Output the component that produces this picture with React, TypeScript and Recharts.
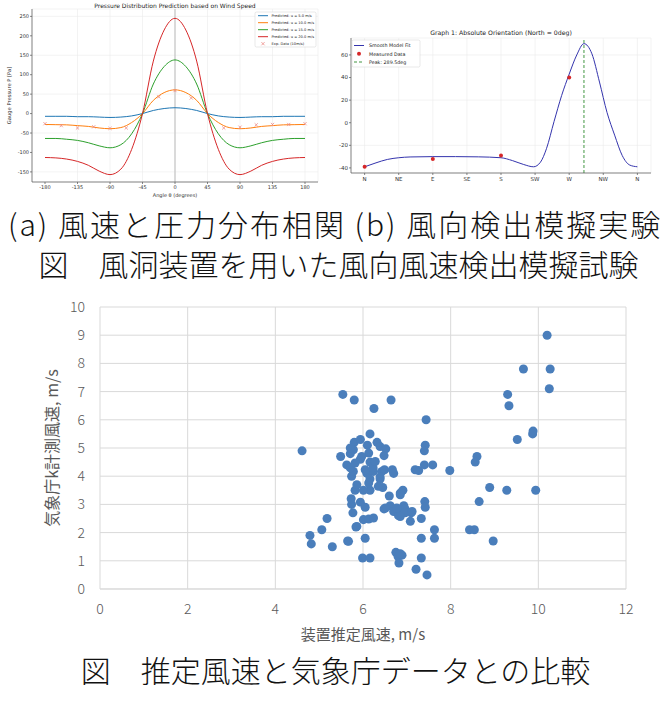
import React from "react";
import {
  ComposedChart,
  ScatterChart,
  Line,
  Scatter,
  XAxis,
  YAxis,
  ZAxis,
  CartesianGrid,
  ReferenceLine,
  Label,
} from "recharts";

// (a) pressure distribution vs angle, every 15 deg
const thetaDeg = [
  -180, -165, -150, -135, -120, -105, -90, -75, -60, -45, -30, -15, 0,
  15, 30, 45, 60, 75, 90, 105, 120, 135, 150, 165, 180,
];
const pU5 = [-7, -7, -7, -8, -8, -9, -10, -9, -6, 0, 8, 13, 15, 13, 8, 0, -6, -9, -10, -9, -8, -8, -7, -7, -7];
const pU10 = [-28, -28.5, -29, -31, -33, -37, -39, -36, -23, 0, 34, 54, 61, 54, 34, 0, -23, -36, -39, -37, -33, -31, -29, -28.5, -28];
const pU15 = [-64, -64, -66, -69, -75, -83, -88, -80, -52, 0, 76, 121, 138, 121, 76, 0, -52, -80, -88, -83, -75, -69, -66, -64, -64];
const pU20 = [-113, -114, -117, -123, -133, -148, -157, -143, -92, 0, 135, 215, 245, 215, 135, 0, -92, -143, -157, -148, -133, -123, -117, -114, -113];

const expTheta = [-180, -157.5, -135, -112.5, -90, -67.5, -22.5, 0, 22.5, 67.5, 90, 112.5, 135, 157.5, 180];
const expP = [-26, -31, -37, -34, -38, -37, 43, 59, 40, -37, -35, -29, -28, -28, -26];

const pressureTicksX = [-180, -135, -90, -45, 0, 45, 90, 135, 180];
const pressureTicksY = [-150, -100, -50, 0, 50, 100, 150, 200, 250];

const pressureSeries = [
  { key: "u5", name: "Predicted: u = 5.0 m/s", color: "#1f77b4" },
  { key: "u10", name: "Predicted: u = 10.0 m/s", color: "#ff7f0e" },
  { key: "u15", name: "Predicted: u = 15.0 m/s", color: "#2ca02c" },
  { key: "u20", name: "Predicted: u = 20.0 m/s", color: "#d62728" },
];

// (b) orientation experiment
const fitDeg = [0, 15, 30, 45, 60, 90, 120, 150, 180, 195, 210, 223, 232, 240, 250, 260, 270, 280, 289.5, 300, 310, 320, 330, 340, 350, 360];
const fitVal = [-39, -35.5, -32.5, -31, -30.3, -30, -30, -30.2, -31, -33.5, -37, -39, -35, -23, 1, 24, 43, 60, 70, 61, 36, 9, -11, -29, -37.5, -39];
const measDeg = [0, 90, 180, 270];
const measVal = [-39, -32, -29, 40];
const dirTicks = [0, 45, 90, 135, 180, 225, 270, 315, 360];
const dirLabels = ["N", "NE", "E", "SE", "S", "SW", "W", "NW", "N"];
const orientTicksY = [-40, -20, 0, 20, 40, 60];
const peakDeg = 289.5;

// device estimate vs JMA measured wind speed
const estSpeed = [
  10.2, 9.66, 10.27, 10.25, 5.54, 5.8, 6.25, 6.64, 9.3, 9.33, 7.44, 6.16, 9.52, 9.88, 9.87, 7.42,
  4.61, 7.4, 8.6, 8.56, 7.4, 7.59, 7.27, 7.98, 6.91, 8.89, 9.28, 9.94, 8.65, 7.41, 7.42, 6.93,
  6.89, 7.1, 7.08, 7.33, 7.63, 7.63, 7.33, 8.43, 8.54, 8.97, 6.89, 7.21, 7.46, 7.33, 6.75, 6.8,
  6.82, 5.18, 5.06, 4.79, 4.82, 5.3, 5.65, 6.05, 5.99, 6.16, 5.84, 5.77, 5.74, 5.73, 5.94, 6.05,
  6.01, 6.13, 6.24, 5.82, 5.86, 6.16, 6.39, 6.45, 6.6, 6.85, 6.48, 6.62, 6.7, 6.81, 6.96, 5.74,
  5.78, 6.09, 6.24, 6.16, 6.43, 6.7, 5.8, 5.94, 6.1, 6.32, 6.39, 6.52, 5.49, 5.71, 5.78, 6.48,
  5.94, 6.16, 6.23, 5.63, 5.71, 6.05, 6.49, 6.67, 6.39, 5.71, 6.13, 5.97, 5.82, 6.28, 6.13, 6.35,
  7.19, 6.01, 6.85, 6.51, 6.77, 6.96, 6.85, 7.12, 5.86, 5.67, 6.85,
];
const jmaSpeed = [
  9.0, 7.8, 7.8, 7.1, 6.9, 6.7, 6.4, 6.7, 6.9, 6.5, 6.0, 5.5, 5.3, 5.6, 5.5, 5.1,
  4.9, 4.9, 4.7, 4.5, 4.4, 4.4, 4.2, 4.2, 3.5, 3.6, 3.5, 3.5, 3.1, 3.1, 2.9, 2.95,
  2.7, 2.7, 2.4, 2.5, 2.1, 1.8, 1.8, 2.1, 2.1, 1.7, 1.2, 0.7, 0.5, 1.1, 1.3, 1.15,
  0.92, 2.5, 2.1, 1.9, 1.6, 1.5, 1.7, 1.8, 1.1, 1.1, 2.2, 2.7, 3.0, 3.2, 3.08, 2.9,
  2.46, 2.48, 2.52, 3.5, 3.7, 3.5, 3.9, 3.6, 3.3, 3.4, 2.84, 2.95, 2.75, 2.6, 2.84, 4.0,
  4.17, 4.1, 4.17, 3.9, 4.17, 4.1, 5.2, 5.3, 5.1, 5.2, 5.05, 4.97, 4.7, 4.8, 4.94, 4.73,
  4.6, 4.5, 4.3, 4.4, 4.3, 4.23, 4.23, 4.23, 3.97, 5.0, 4.82, 4.7, 4.47, 4.52, 3.76, 3.64,
  4.23, 3.5, 3.34, 2.87, 2.87, 2.7, 2.57, 2.75, 2.22, 1.69, 1.25,
];
const speedTicksX = [0, 2, 4, 6, 8, 10, 12];
const speedTicksY = [0, 1, 2, 3, 4, 5, 6, 7, 8, 9, 10];

const MPL = "'DejaVu Sans', sans-serif";
const JP = "'Noto Sans CJK JP', 'Noto Sans', sans-serif";

const pressureRows = thetaDeg.map((t, i) => ({
  theta: t,
  u5: pU5[i],
  u10: pU10[i],
  u15: pU15[i],
  u20: pU20[i],
}));
const expRows = expTheta.map((t, i) => ({ theta: t, p: expP[i] }));
const fitRows = fitDeg.map((d, i) => ({ deg: d, fit: fitVal[i] }));
const measRows = measDeg.map((d, i) => ({ deg: d, v: measVal[i] }));
const speedRows = estSpeed.map((x, i) => ({ x, y: jmaSpeed[i] }));

const XMark = (props: any) => {
  const { cx, cy } = props;
  const s = 1.6;
  return (
    <g stroke="#ec8a85" strokeWidth={0.8}>
      <line x1={cx - s} y1={cy - s} x2={cx + s} y2={cy + s} />
      <line x1={cx - s} y1={cy + s} x2={cx + s} y2={cy - s} />
    </g>
  );
};

const RedDot = (props: any) => <circle cx={props.cx} cy={props.cy} r={2} fill="#d62728" />;

const smallTick = { fontSize: 5, fill: "#333", fontFamily: MPL };
const spine = { stroke: "#555", strokeWidth: 0.7 };

function PressureChart() {
  return (
    <div style={{ position: "absolute", left: 0, top: 0, width: 330, height: 200 }}>
      <ComposedChart width={330} height={200} data={pressureRows} margin={{ top: 9, right: 12, bottom: 0, left: 0 }}>
        <CartesianGrid stroke="#ebebeb" strokeWidth={0.6} />
        <XAxis
          type="number"
          dataKey="theta"
          domain={[-198, 198]}
          ticks={pressureTicksX}
          tick={smallTick}
          tickSize={2}
          tickMargin={1}
          height={18}
          axisLine={spine}
          tickLine={spine}
        >
          <Label value="Angle θ (degrees)" position="insideBottom" offset={3} style={{ fontSize: 5, fill: "#333", fontFamily: MPL }} />
        </XAxis>
        <XAxis xAxisId="top" orientation="top" type="number" domain={[-198, 198]} height={0} tick={false} tickLine={false} axisLine={spine} />
        <YAxis
          type="number"
          domain={[-176, 269]}
          ticks={pressureTicksY}
          tick={smallTick}
          tickSize={2}
          tickMargin={1}
          width={32}
          axisLine={spine}
          tickLine={spine}
        >
          <Label
            value="Gauge Pressure P [Pa]"
            angle={-90}
            position="insideLeft"
            offset={9}
            style={{ fontSize: 5.2, fill: "#333", fontFamily: MPL, textAnchor: "middle" }}
          />
        </YAxis>
        <YAxis yAxisId="right" orientation="right" type="number" domain={[-176, 269]} width={0} tick={false} tickLine={false} axisLine={spine} />
        <ReferenceLine x={0} stroke="#c8c8c8" strokeOpacity={0.8} strokeWidth={1.6} />
        {pressureSeries.map((s) => (
          <Line
            key={s.key}
            type="monotone"
            dataKey={s.key}
            stroke={s.color}
            strokeWidth={1}
            dot={false}
            isAnimationActive={false}
          />
        ))}
        <Scatter data={expRows} dataKey="p" shape={XMark} isAnimationActive={false} />
      </ComposedChart>
      <svg style={{ position: "absolute", left: 0, top: 0 }} width={330} height={200}>
        <text x={175} y={7.5} textAnchor="middle" fontSize={6} fontFamily={MPL} fill="#222">
          Pressure Distribution Prediction based on Wind Speed
        </text>
        <rect x={255} y={12} width={61} height={35} rx={1.5} fill="#fff" fillOpacity={0.85} stroke="#d0d0d0" strokeWidth={0.5} />
        {pressureSeries.map((s, i) => (
          <g key={s.key}>
            <line x1={258} x2={268} y1={15.7 + i * 7} y2={15.7 + i * 7} stroke={s.color} strokeWidth={1} />
            <text x={271.5} y={17 + i * 7} fontSize={3.6} fontFamily={MPL} fill="#222">
              {s.name}
            </text>
          </g>
        ))}
        <g transform="translate(263, 43.7)" stroke="#ec8a85" strokeWidth={0.8}>
          <line x1={-1.6} y1={-1.6} x2={1.6} y2={1.6} />
          <line x1={-1.6} y1={1.6} x2={1.6} y2={-1.6} />
        </g>
        <text x={271.5} y={45} fontSize={3.6} fontFamily={MPL} fill="#222">
          Exp. Data (10m/s)
        </text>
      </svg>
    </div>
  );
}

function OrientationChart() {
  return (
    <div style={{ position: "absolute", left: 330, top: 0, width: 335, height: 200 }}>
      <ComposedChart width={335} height={200} margin={{ top: 38, right: 14, bottom: 0, left: 0 }}>
        <CartesianGrid stroke="#ebebeb" strokeWidth={0.6} />
        <XAxis
          type="number"
          dataKey="deg"
          domain={[-18, 378]}
          ticks={dirTicks}
          tickFormatter={(v: number) => dirLabels[dirTicks.indexOf(v)]}
          tick={{ ...smallTick, fontSize: 5.5 }}
          tickSize={2}
          tickMargin={2}
          height={27}
          axisLine={spine}
          tickLine={spine}
        />
        <XAxis xAxisId="top" orientation="top" type="number" domain={[-18, 378]} height={0} tick={false} tickLine={false} axisLine={spine} />
        <YAxis
          type="number"
          domain={[-44.5, 75]}
          ticks={orientTicksY}
          tick={{ ...smallTick, fontSize: 5.5 }}
          tickSize={2}
          tickMargin={1}
          width={21}
          axisLine={spine}
          tickLine={spine}
        />
        <YAxis yAxisId="right" orientation="right" type="number" domain={[-44.5, 75]} width={0} tick={false} tickLine={false} axisLine={spine} />
        <Line data={fitRows} type="monotone" dataKey="fit" stroke="#3434ad" strokeWidth={1} dot={false} isAnimationActive={false} />
        <Scatter data={measRows} dataKey="v" shape={RedDot} isAnimationActive={false} />
        <ReferenceLine x={peakDeg} stroke="#2e8b2e" strokeWidth={0.9} strokeDasharray="3 2" />
      </ComposedChart>
      <svg style={{ position: "absolute", left: 0, top: 0 }} width={335} height={200}>
        <text x={171} y={35} textAnchor="middle" fontSize={6.2} fontFamily={MPL} fill="#222">
          Graph 1: Absolute Orientation (North = 0deg)
        </text>
        <rect x={22} y={40} width={68} height={27} rx={1.5} fill="#fff" fillOpacity={0.85} stroke="#d0d0d0" strokeWidth={0.5} />
        <line x1={24} x2={34} y1={45.5} y2={45.5} stroke="#3434ad" strokeWidth={1} />
        <text x={39} y={47.2} fontSize={4.8} fontFamily={MPL} fill="#222">Smooth Model Fit</text>
        <circle cx={29} cy={53.8} r={2} fill="#d62728" />
        <text x={39} y={55.5} fontSize={4.8} fontFamily={MPL} fill="#222">Measured Data</text>
        <line x1={24} x2={34} y1={62} y2={62} stroke="#2e8b2e" strokeWidth={0.9} strokeDasharray="3 2" />
        <text x={39} y={63.7} fontSize={4.8} fontFamily={MPL} fill="#222">Peak: 289.5deg</text>
      </svg>
    </div>
  );
}

function SpeedScatter() {
  const tick = { fontSize: 14, fill: "#595959", fontFamily: JP, fontWeight: 300 };
  return (
    <div style={{ position: "absolute", left: 0, top: 290, width: 665, height: 360 }}>
      <ScatterChart width={665} height={360} margin={{ top: 17, right: 39, bottom: 0, left: 0 }}>
        <CartesianGrid stroke="#d9d9d9" />
        <XAxis
          type="number"
          dataKey="x"
          domain={[0, 12]}
          ticks={speedTicksX}
          tick={tick}
          tickLine={false}
          tickSize={0}
          tickMargin={15}
          height={61}
          axisLine={{ stroke: "#d9d9d9" }}
        >
          <Label value="装置推定風速, m/s" position="insideBottom" offset={10} style={{ fontSize: 15, fill: "#595959", fontFamily: JP }} />
        </XAxis>
        <YAxis
          type="number"
          dataKey="y"
          domain={[0, 10]}
          ticks={speedTicksY}
          tick={tick}
          tickLine={false}
          tickSize={0}
          tickMargin={15}
          width={100}
          axisLine={false}
        >
          <Label
            value="気象庁k計測風速, m/s"
            angle={-90}
            position="insideLeft"
            offset={52}
            style={{ fontSize: 16, fill: "#595959", fontFamily: JP, textAnchor: "middle" }}
          />
        </YAxis>
        <ZAxis range={[72, 72]} />
        <Scatter data={speedRows} fill="#4a7ebb" isAnimationActive={false} />
      </ScatterChart>
    </div>
  );
}

const captionStyle: React.CSSProperties = {
  position: "absolute",
  whiteSpace: "nowrap",
  fontFamily: JP,
  fontSize: 30,
  fontWeight: 300,
  lineHeight: "36px",
  color: "#111",
};

export default function App() {
  return (
    <div style={{ position: "absolute", left: 0, top: 0, width: 665, height: 705, background: "#fff", overflow: "hidden" }}>
      <PressureChart />
      <OrientationChart />
      <div style={{ ...captionStyle, top: 205, left: 8, letterSpacing: 2 }}>(a) 風速と圧力分布相関 (b) 風向検出模擬実験</div>
      <div style={{ ...captionStyle, top: 245, left: 0, width: 665, textAlign: "center", paddingLeft: 12, boxSizing: "border-box" }}>
        図　風洞装置を用いた風向風速検出模擬試験
      </div>
      <SpeedScatter />
      <div style={{ ...captionStyle, top: 651, left: 0, width: 665, textAlign: "center", paddingLeft: 6, boxSizing: "border-box" }}>
        図　推定風速と気象庁データとの比較
      </div>
    </div>
  );
}
